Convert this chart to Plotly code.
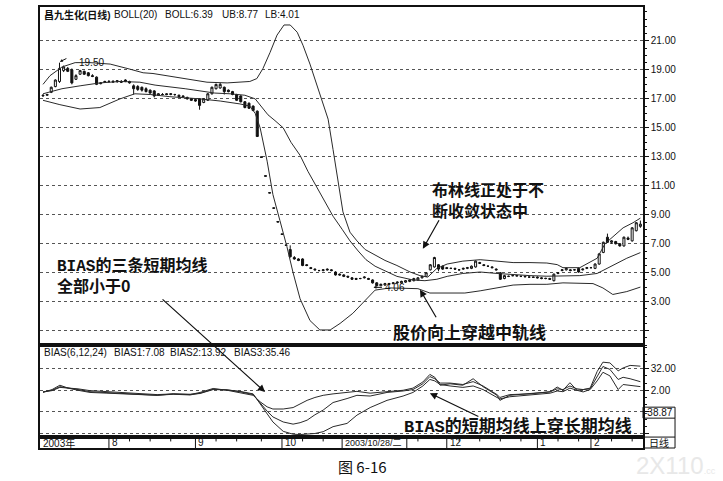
import plotly.graph_objects as go

# ---------------- data ----------------
days = list(range(146))

open_ = [17.20, 17.25, 17.45, 17.85, 18.20, 18.95, 19.10, 19.00, 18.35, 18.70,
         18.90, 18.80, 18.60, 18.50, 18.05, 18.15, 18.20, 18.15, 18.20, 18.20,
         18.30, 18.20, 17.90, 17.85, 17.80, 17.70, 17.60, 17.55, 17.25, 17.30,
         17.35, 17.30, 17.30, 17.25, 17.20, 17.10, 17.00, 16.95, 17.00, 16.75,
         16.90, 17.35, 17.70, 17.75, 17.80, 17.60, 17.50, 17.30, 17.20, 16.80,
         16.70, 16.50, 16.15, 13.00, 11.70, 10.53, 9.48, 8.53, 7.68, 6.92,
         6.60, 6.05, 5.95, 5.95, 5.55, 5.35, 5.25, 5.15, 5.15, 5.25,
         5.20, 5.05, 4.90, 4.85, 4.75, 4.65, 4.60, 4.60, 4.65, 4.60,
         4.50, 4.30, 4.10, 4.15, 4.20, 4.25, 4.30, 4.30, 4.35, 4.40,
         4.45, 4.50, 4.65, 4.75, 5.20, 5.40, 5.55, 5.45, 5.35, 5.30,
         5.30, 5.20, 5.25, 5.30, 5.30, 5.40, 5.70, 5.55, 5.45, 5.40,
         5.25, 5.00, 4.60, 4.75, 4.80, 4.80, 4.75, 4.75, 4.70, 4.70,
         4.70, 4.65, 4.62, 4.60, 4.45, 4.95, 5.15, 5.20, 5.20, 5.20,
         5.30, 5.20, 5.30, 5.35, 5.30, 5.60, 6.40, 7.45, 7.10, 7.15,
         7.00, 6.85, 7.40, 7.20, 7.90, 8.20]

high_ = [17.30, 17.35, 17.85, 18.35, 19.50, 19.30, 19.20, 19.10, 18.70, 19.00,
         18.95, 18.85, 18.70, 18.55, 18.15, 18.25, 18.30, 18.30, 18.30, 18.30,
         18.35, 18.25, 18.00, 17.95, 17.85, 17.80, 17.65, 17.60, 17.40, 17.40,
         17.40, 17.40, 17.35, 17.30, 17.25, 17.15, 17.05, 17.00, 17.05, 17.05,
         17.40, 17.85, 18.05, 18.10, 17.85, 17.65, 17.55, 17.35, 17.25, 16.85,
         16.75, 16.55, 16.20, 13.00, 11.70, 10.53, 9.48, 8.53, 7.68, 6.92,
         6.89, 6.15, 6.00, 6.00, 5.60, 5.40, 5.30, 5.20, 5.25, 5.30,
         5.25, 5.10, 4.95, 4.90, 4.80, 4.70, 4.65, 4.65, 4.75, 4.65,
         4.55, 4.35, 4.25, 4.30, 4.30, 4.35, 4.40, 4.45, 4.50, 4.55,
         4.65, 4.70, 4.80, 5.05, 5.60, 6.10, 5.60, 5.50, 5.40, 5.35,
         5.35, 5.25, 5.35, 5.40, 5.50, 5.85, 5.75, 5.60, 5.50, 5.45,
         5.30, 5.05, 4.85, 4.80, 4.85, 4.85, 4.80, 4.80, 4.75, 4.75,
         4.75, 4.70, 4.65, 4.65, 4.95, 5.05, 5.25, 5.35, 5.25, 5.25,
         5.35, 5.30, 5.40, 5.40, 5.65, 6.35, 7.15, 7.70, 7.25, 7.20,
         7.05, 7.50, 7.50, 8.15, 8.50, 8.60]

low_ = [17.15, 17.20, 17.40, 17.80, 18.10, 18.85, 18.85, 18.00, 18.30, 18.65,
        18.65, 18.55, 18.50, 17.95, 18.00, 18.10, 18.10, 18.10, 18.10, 18.10,
        18.15, 18.05, 17.30, 17.55, 17.50, 17.45, 17.35, 17.10, 17.20, 17.25,
        17.25, 17.25, 17.20, 17.10, 17.10, 16.95, 16.85, 16.80, 16.25, 16.70,
        16.85, 17.30, 17.65, 17.70, 17.30, 17.45, 17.25, 16.85, 16.75, 16.35,
        16.30, 16.15, 14.40, 12.96, 11.66, 10.50, 9.45, 8.50, 7.65, 6.89,
        6.05, 5.90, 5.80, 5.45, 5.45, 5.25, 5.15, 5.10, 5.10, 5.15,
        5.10, 4.80, 4.80, 4.70, 4.65, 4.50, 4.50, 4.55, 4.60, 4.50,
        4.25, 4.06, 4.08, 4.10, 4.15, 4.20, 4.25, 4.25, 4.30, 4.35,
        4.40, 4.45, 4.60, 4.70, 5.15, 5.35, 5.10, 5.20, 5.25, 5.25,
        5.20, 5.15, 5.20, 5.25, 5.25, 5.35, 5.60, 5.45, 5.40, 5.30,
        5.15, 4.50, 4.55, 4.70, 4.75, 4.75, 4.70, 4.70, 4.65, 4.65,
        4.60, 4.55, 4.55, 4.50, 4.40, 4.90, 5.10, 5.15, 5.10, 5.15,
        5.00, 5.15, 5.25, 5.30, 5.25, 5.55, 6.35, 7.05, 7.00, 6.95,
        6.80, 6.80, 7.25, 7.15, 7.85, 8.10]

close_ = [17.25, 17.30, 17.80, 18.30, 19.10, 19.20, 18.90, 18.10, 18.60, 18.95,
          18.70, 18.60, 18.55, 18.00, 18.10, 18.20, 18.20, 18.20, 18.25, 18.15,
          18.20, 18.10, 17.70, 17.65, 17.60, 17.50, 17.40, 17.20, 17.35, 17.30,
          17.30, 17.35, 17.30, 17.15, 17.15, 17.00, 16.90, 16.85, 16.55, 17.00,
          17.35, 17.80, 18.00, 18.00, 17.50, 17.50, 17.30, 16.90, 16.80, 16.40,
          16.35, 16.20, 14.40, 12.96, 11.66, 10.50, 9.45, 8.50, 7.65, 6.89,
          6.10, 5.95, 5.85, 5.50, 5.50, 5.30, 5.20, 5.15, 5.20, 5.20,
          5.15, 4.85, 4.85, 4.75, 4.70, 4.55, 4.55, 4.60, 4.70, 4.55,
          4.30, 4.10, 4.20, 4.25, 4.25, 4.30, 4.35, 4.40, 4.45, 4.50,
          4.60, 4.65, 4.75, 5.00, 5.55, 6.05, 5.25, 5.25, 5.30, 5.30,
          5.25, 5.20, 5.30, 5.35, 5.45, 5.80, 5.65, 5.50, 5.45, 5.35,
          5.20, 4.55, 4.80, 4.75, 4.80, 4.78, 4.75, 4.72, 4.70, 4.68,
          4.65, 4.60, 4.60, 4.55, 4.90, 5.00, 5.20, 5.30, 5.15, 5.20,
          5.05, 5.25, 5.35, 5.35, 5.60, 6.30, 7.10, 7.10, 7.20, 7.00,
          6.85, 7.45, 7.30, 8.10, 8.45, 8.35]

# Bollinger bands (read as sampled points)
ub_days = [0, 1.7, 4.6, 7.8, 11.4, 16.3, 21.1, 24.3, 26.7, 30.1, 35.0, 39.8, 44.7,
           50.2, 51.9, 53.4, 55.1, 56.8, 58.5, 60.0, 61.7, 63.1, 64.8, 66.5, 68.0,
           69.2, 70.4, 71.6, 72.8, 74.5, 76.2, 78.2, 80.1, 83.0, 85.9, 89.1, 91.5,
           93.4, 95.6, 98.1, 101.9, 106.1, 110.2, 114.1, 118.2, 122.3, 124.8, 126.2,
           130.3, 134.5, 136.4, 138.3, 140.8, 143.2, 145]
ub_vals = [18.0, 18.6, 19.2, 19.5, 19.5, 19.4, 19.05, 18.8, 18.75, 18.6, 18.35, 18.15, 18.1,
           18.2, 18.4, 19.1, 20.2, 21.4, 22.1, 22.1, 21.6, 20.7, 19.4, 17.9, 16.5,
           15.6, 13.5, 11.4, 9.2, 7.8, 7.2, 6.6, 6.3, 5.85, 5.5, 5.05, 4.8,
           4.7, 5.3, 5.6, 5.8, 5.9, 5.8, 5.7, 5.7, 5.67, 5.56, 5.35,
           5.35, 6.0, 7.0, 7.5, 8.1, 8.45, 8.77]

mid_days = [0, 2.2, 4.6, 9.0, 13.8, 18.7, 23.5, 27.2, 30.8, 34.5, 38.1, 41.7, 45.4,
            49.0, 51.5, 53.4, 54.6, 56.3, 58.3, 60.2, 62.4, 64.3, 66.5, 68.4, 70.4,
            72.6, 74.5, 76.5, 78.4, 80.6, 82.5, 85.9, 89.8, 92.7, 95.6, 98.1, 101.9,
            106.1, 110.2, 114.1, 118.2, 122.3, 126.2, 130.3, 134.5, 138.3, 141.7, 145]
mid_vals = [17.35, 17.5, 17.7, 17.9, 18.1, 18.2, 18.15, 17.95, 17.85, 17.7, 17.55, 17.4, 17.35,
            17.25, 17.0, 16.3, 15.9, 15.5, 15.0, 14.0, 13.1, 12.0, 10.9, 9.9, 8.9,
            8.0, 7.2, 6.5, 5.9, 5.45, 5.2, 4.75, 4.5, 4.45, 4.55, 4.75, 4.95,
            5.05, 4.95, 4.87, 4.8, 4.76, 4.8, 4.8, 4.95, 5.5, 6.0, 6.39]

lb_days = [0, 4.1, 9.0, 13.8, 18.7, 22.3, 26.0, 30.8, 38.1, 43.0, 47.8, 50.2, 51.5,
           52.7, 54.4, 55.8, 57.5, 59.2, 60.7, 62.4, 64.8, 67.2, 69.7, 72.1, 75.2,
           78.2, 80.6, 84.2, 87.9, 91.0, 93.9, 98.1, 102.4, 106.1, 110.2, 114.1,
           118.2, 122.3, 126.2, 130.3, 133.5, 135.9, 138.3, 141.7, 145]
lb_vals = [16.9, 16.6, 16.3, 16.4, 17.0, 17.35, 17.3, 17.15, 17.0, 16.85, 16.65, 16.5, 16.0,
           15.0, 12.7, 10.4, 8.6, 6.8, 5.0, 3.2, 1.7, 1.05, 1.05, 1.5, 2.2,
           3.1, 3.8, 3.95, 3.95, 3.9, 3.6, 3.6, 3.6, 3.75, 3.96, 4.15,
           4.2, 4.2, 4.3, 4.3, 4.25, 3.95, 3.5, 3.7, 4.01]

# BIAS(6,12,24) sampled points
bias_days = [0, 2.2, 4.1, 6.1, 8.5, 11.4, 15.5, 19.4, 23.5, 27.7, 31.6, 35.7, 38.1,
             39.8, 41.3, 44.7, 47.8, 51.0, 52.7, 54.4, 55.8, 58.3, 60.7, 62.4, 64.1,
             66.0, 68.0, 70.4, 73.8, 76.2, 79.4, 83.5, 87.4, 89.8, 92.2, 93.9, 95.1,
             96.4, 98.8, 101.9, 104.4, 106.8, 110.2, 110.9, 113.3, 118.2, 123.1, 124.8,
             126.2, 127.9, 129.6, 131.1, 132.8, 134.5, 135.9, 137.6, 139.6, 140.8,
             142.5, 145]
bias1 = [-1, 3, 9, 5, 2, -1, -2, -3, -3.5, -5, -3, -4, -1,
         2, 4.5, 2, -1, -5, -14, -21, -24, -24, -22, -17, -12,
         -8, -5, -3, -1, 0.5, -2, 0.5, 2, 5, 13.5, 24, 20,
         9, 11, 9, 18, 7, -5, -12, -5, -2.5, -0.3, 6.5,
         2, 12.5, 2, -0.3, 3, 15, 27, 22, 3, 10,
         9, 7.08]
bias2 = [-0.5, 2, 7, 5.5, 3, 0, -1, -2.5, -3.5, -5, -3.5, -4.5, -2,
         1, 3.5, 2.5, 0, -4, -16, -27, -35, -42, -45, -43, -39.5,
         -32, -25.5, -15, -9.5, -5, -6, -1, 1, 3, 11, 21, 18,
         12, 12, 10, 14, 8, -4, -8, -4, -3, 0, 4,
         3, 8, 4, 3, 4, 22, 35, 31, 17, 20,
         18, 13.92]
bias3 = [0, 1.5, 6, 5, 4, 1.5, 0, -1.5, -2.5, -4, -3, -3.5, -2.5,
         0, 3, 2.5, 0.5, -3, -17, -30, -42, -55, -59, -59.5, -59,
         -58, -55.5, -48.5, -44, -32.5, -22, -12, -6, -1, 8, 17, 15,
         10, 8, 6, 8, 3, -8, -10, -7, -5, -2, 1,
         0, 5, 2, 3, 5, 28, 41, 40, 29, 33,
         36.5, 35.46]

price_grid = [1, 3, 5, 7, 9, 11, 13, 15, 17, 19, 21]
price_labels = ["", "3.00", "5.00", "7.00", "9.00", "11.00", "13.00", "15.00",
                "17.00", "19.00", "21.00"]
bias_grid = [32, 2, -28, -58]
bias_labels = ["32.00", "2.00", "", ""]

month_days = [16, 37, 58, 98, 120, 133]
month_labels = ["8", "9", "10", "12", "1", "2"]
week_days = [21, 26, 31, 42, 47, 53, 63, 68, 91, 101, 106, 111, 116, 125, 130, 138, 143]
cross_box = [72.6, 88.3]
cross_label = "2003/10/28/二"

stock_name = "昌九生化(日线)"
boll_last, ub_last, lb_last = 6.39, 8.77, 4.01
bias1_last, bias2_last, bias3_last = 7.08, 13.92, 35.46
bias_cross_value = -38.87
max_price, min_price = 19.50, 4.06

# ---------------- figure ----------------
INK = "#111111"
X_RANGE = [-0.73, 145.63]
axis_line = dict(showline=True, mirror=True, linecolor=INK, linewidth=1.5)

fig = go.Figure()
fig.add_trace(go.Candlestick(
    x=days, open=open_, high=high_, low=low_, close=close_,
    increasing=dict(line=dict(color=INK, width=1), fillcolor="white"),
    decreasing=dict(line=dict(color=INK, width=1), fillcolor=INK),
    whiskerwidth=0, xaxis="x", yaxis="y", hoverinfo="skip"))
for xs, ys in [(ub_days, ub_vals), (mid_days, mid_vals), (lb_days, lb_vals)]:
    fig.add_trace(go.Scatter(x=xs, y=ys, mode="lines", line=dict(color="#2a2a2a", width=1),
                             xaxis="x", yaxis="y", hoverinfo="skip"))
for ys in (bias1, bias2, bias3):
    fig.add_trace(go.Scatter(x=bias_days, y=ys, mode="lines", line=dict(color="#2a2a2a", width=1),
                             xaxis="x2", yaxis="y2", hoverinfo="skip"))
fig.add_trace(go.Scatter(x=[0], y=[0.5], mode="markers", marker=dict(opacity=0),
                         xaxis="x3", yaxis="y3", hoverinfo="skip"))

fig.update_layout(
    width=723, height=481,
    margin=dict(l=40, r=80, t=5, b=33),
    paper_bgcolor="white", plot_bgcolor="white", showlegend=False,
    font=dict(family="Liberation Sans, Arial, Noto Sans CJK SC", size=10, color=INK),
    xaxis=dict(domain=[0, 1], range=X_RANGE, anchor="y", showticklabels=False, ticks="",
               showgrid=False, zeroline=False, rangeslider=dict(visible=False), **axis_line),
    xaxis2=dict(domain=[0, 1], range=X_RANGE, anchor="y2", showticklabels=False, ticks="",
                showgrid=False, zeroline=False, **axis_line),
    xaxis3=dict(domain=[0, 1], range=X_RANGE, anchor="y3", showticklabels=False, ticks="",
                showgrid=False, zeroline=False, **axis_line),
    yaxis=dict(domain=[0.2325, 1], range=[-0.02, 23.34], anchor="x", side="right",
               tickmode="array", tickvals=price_grid, ticktext=price_labels,
               ticks="outside", ticklen=4, tickcolor=INK, tickfont=dict(size=10),
               showgrid=True, gridcolor="#555555", griddash="dot", gridwidth=1, zeroline=False,
               minor=dict(tickmode="linear", tick0=0, dtick=0.5, ticks="outside", ticklen=2,
                          tickcolor=INK, showgrid=False),
               **axis_line),
    yaxis2=dict(domain=[0.0248, 0.2325], range=[-62.95, 64.2], anchor="x2", side="right",
                tickmode="array", tickvals=bias_grid, ticktext=bias_labels,
                ticks="outside", ticklen=4, tickcolor=INK, tickfont=dict(size=10),
                showgrid=True, gridcolor="#555555", griddash="dot", gridwidth=1, zeroline=False,
                minor=dict(tickmode="linear", tick0=2, dtick=10, ticks="outside", ticklen=2,
                           tickcolor=INK, showgrid=False),
                **axis_line),
    yaxis3=dict(domain=[0, 0.0248], range=[0, 1], anchor="x3", showticklabels=False, ticks="",
                showgrid=False, zeroline=False, **axis_line),
)

shapes = []
for m in month_days:
    shapes.append(dict(type="line", xref="x3", yref="y3 domain", x0=m, x1=m, y0=0, y1=1,
                       line=dict(color=INK, width=1)))
for w in week_days:
    shapes.append(dict(type="line", xref="x3", yref="y3 domain", x0=w, x1=w, y0=0.6, y1=1,
                       line=dict(color=INK, width=1)))
for cb in cross_box:
    shapes.append(dict(type="line", xref="x3", yref="y3 domain", x0=cb, x1=cb, y0=0, y1=1,
                       line=dict(color=INK, width=1)))
# right-hand boxes
shapes += [
    dict(type="rect", xref="paper", yref="paper", x0=1.0, x1=1.0531, y0=0.0677, y1=0.0926,
         line=dict(color=INK, width=1)),
    dict(type="line", xref="paper", yref="paper", x0=1.0531, x1=1.0531, y0=0.0, y1=0.0677,
         line=dict(color=INK, width=1)),
    dict(type="line", xref="paper", yref="paper", x0=1.0, x1=1.0531, y0=0.0248, y1=0.0248,
         line=dict(color=INK, width=1)),
    dict(type="line", xref="paper", yref="paper", x0=1.0, x1=1.0531, y0=0.0, y1=0.0,
         line=dict(color=INK, width=1)),
]
fig.update_layout(shapes=shapes)

ann = []
def txt(text, x, y, xref="paper", yref="paper", size=10, family=None, xanchor="left",
        color=INK, **kw):
    f = dict(size=size, color=color)
    if family:
        f["family"] = family
    d = dict(text=text, x=x, y=y, xref=xref, yref=yref, xanchor=xanchor, yanchor="middle",
             showarrow=False, font=f)
    d.update(kw)
    ann.append(d)

# headers
txt("<b>" + stock_name + "</b>", 0.003, 0.982)
txt("BOLL(20)", 0.119, 0.982)
txt(f"BOLL:{boll_last:.2f}", 0.204, 0.982)
txt(f"UB:{ub_last:.2f}", 0.299, 0.982)
txt(f"LB:{lb_last:.2f}", 0.370, 0.982)
txt("BIAS(6,12,24)", 0.003, 0.2167)
txt(f"BIAS1:{bias1_last:.2f}", 0.119, 0.2167)
txt(f"BIAS2:{bias2_last:.2f}", 0.212, 0.2167)
txt(f"BIAS3:{bias3_last:.2f}", 0.318, 0.2167)

# date strip labels
txt("2003年", -0.5, 0.5, xref="x3", yref="y3 domain")
for m, lab in zip(month_days, month_labels):
    txt(lab, m, 0.5, xref="x3", yref="y3 domain", xshift=1)
txt(cross_label, cross_box[0], 0.5, xref="x3", yref="y3 domain", size=9, xshift=1)
txt("日线", 1.0265, 0.0124, xanchor="center")
txt(f"{bias_cross_value:.2f}", 1.0265, 0.0801, xanchor="center")

# price markers
txt(f"{max_price:.2f}", 8.25, max_price, xref="x", yref="y")
ann.append(dict(x=4.1, y=19.56, xref="x", yref="y", ax=8, ay=-4, text="", showarrow=True,
                arrowhead=2, arrowsize=0.6, arrowwidth=1, arrowcolor=INK))
txt(f"{min_price:.2f}", 82.6, 3.99, xref="x", yref="y")
ann.append(dict(x=80.2, y=3.99, xref="x", yref="y", ax=10, ay=0, text="", showarrow=True,
                arrowhead=2, arrowsize=0.6, arrowwidth=1, arrowcolor=INK))

# commentary
CJK = "Noto Sans CJK SC"
MONO = "<span style=\"font-family:'Liberation Mono'\">BIAS</span>"
txt("<b>布林线正处于不<br>断收敛状态中</b>", 93.9, 10.05, xref="x", yref="y", size=16,
    family=CJK, align="left")
ann.append(dict(x=92.2, y=6.65, xref="x", yref="y", ax=17, ay=-30, text="", showarrow=True,
                arrowhead=2, arrowsize=1.2, arrowwidth=1.2, arrowcolor=INK))
txt("<b>股价向上穿越中轨线</b>", 84.5, 0.95, xref="x", yref="y", size=17, family=CJK)
ann.append(dict(x=91.5, y=3.83, xref="x", yref="y", ax=17, ay=29, text="", showarrow=True,
                arrowhead=2, arrowsize=1.2, arrowwidth=1.2, arrowcolor=INK))
txt("<b>" + MONO + "的三条短期均线<br>全部小于0</b>", 2.9, 4.9, xref="x", yref="y", size=16,
    family=CJK, align="left")
ann.append(dict(x=53.9, y=-0.4, xref="x2", yref="y2", ax=-104, ay=-94, text="", showarrow=True,
                arrowhead=2, arrowsize=1.2, arrowwidth=1.2, arrowcolor=INK))
txt("<b>" + MONO + "的短期均线上穿长期均线</b>", 87.1, -46.0, xref="x2", yref="y2", size=17,
    family=CJK)
ann.append(dict(x=93.9, y=-2.1, xref="x2", yref="y2", ax=50, ay=24, text="", showarrow=True,
                arrowhead=2, arrowsize=1.2, arrowwidth=1.2, arrowcolor=INK))

# caption + faint watermark
txt("图 6-16", 0.534, -0.043, size=15, family=CJK, xanchor="center")
txt("2X110<span style='font-size:9px'>.cc</span>", 0.985, -0.04, size=24, color="#e8e8e8")

fig.update_layout(annotations=ann)
fig.write_html("out.html", config={"displayModeBar": False},
               post_script="document.body.style.margin='0';")
